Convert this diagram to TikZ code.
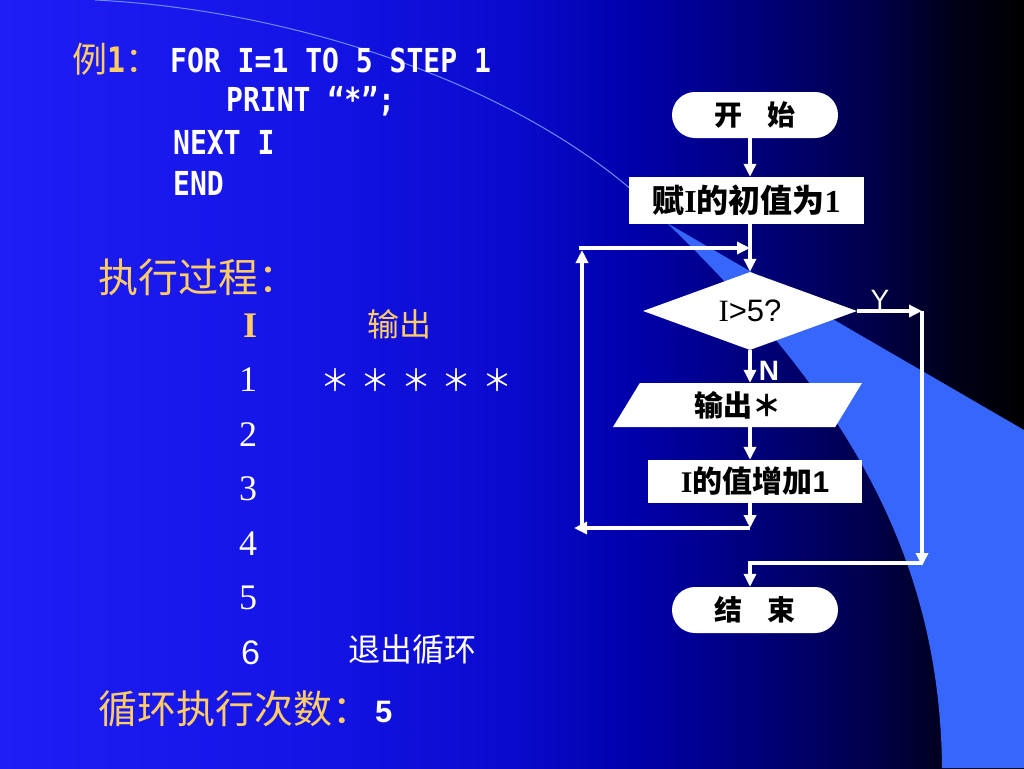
\documentclass[tikz,border=0pt]{standalone}
\usepackage{fontspec}
\usetikzlibrary{shapes,arrows.meta}

\newfontfamily\cjkfont{Noto Sans CJK SC}
\newfontfamily\codefont[FakeStretch=0.85]{DejaVu Sans Mono}
\newfontfamily\romfont{Liberation Serif}
\newfontfamily\arialfont{Liberation Sans}

\definecolor{hdr}{RGB}{255,204,102}
\definecolor{band}{RGB}{55,102,250}
\definecolor{arcline}{RGB}{110,140,255}
\definecolor{bgA}{RGB}{30,30,245}
\definecolor{bgB}{RGB}{20,20,230}
\definecolor{bgC}{RGB}{10,10,205}
\definecolor{bgD}{RGB}{0,0,170}
\definecolor{bgE}{RGB}{0,0,125}
\definecolor{bgF}{RGB}{0,0,75}
\definecolor{bgG}{RGB}{0,0,25}

\pgfdeclarehorizontalshading{slidebg}{100bp}{color(0bp)=(bgA); color(25bp)=(bgA);
  color(40bp)=(bgB); color(50bp)=(bgC); color(56bp)=(bgD); color(61.5bp)=(bgE);
  color(67.5bp)=(bgF); color(71.5bp)=(bgG); color(75bp)=(black); color(100bp)=(black)}

\tikzset{
  flowarr/.style={draw=white, line width=3.5pt, -{Triangle[length=13pt,width=12pt]}},
  termnode/.style={rounded rectangle, fill=white, minimum width=166pt, minimum height=46pt,
    inner sep=0pt, font=\cjkfont\bfseries\fontsize{28}{32}\selectfont},
  procnode/.style={rectangle, fill=white, inner sep=0pt,
    font=\cjkfont\bfseries\fontsize{30}{34}\selectfont},
  decnode/.style={diamond, fill=white, aspect=2.74, minimum width=214pt, minimum height=78pt,
    inner sep=0pt, font=\fontsize{31}{34}\selectfont},
  ionode/.style={trapezium, trapezium left angle=46, trapezium right angle=134,
    trapezium stretches body=true, fill=white, minimum width=249pt, minimum height=44pt,
    inner sep=0pt, font=\cjkfont\bfseries\fontsize{29}{32}\selectfont},
  codeln/.style={anchor=base west, inner sep=0pt, text=white,
    font=\codefont\bfseries\fontsize{33}{36}\selectfont},
  hdrtxt/.style={anchor=base west, inner sep=0pt, text=hdr,
    font=\cjkfont\fontsize{40}{44}\selectfont},
  rowtxt/.style={anchor=base west, inner sep=0pt, text=white,
    font=\romfont\fontsize{36}{40}\selectfont},
  startxt/.style={inner sep=0pt, text=white, font=\cjkfont\fontsize{30}{34}\selectfont},
  lbl/.style={inner sep=0pt, text=white, font=\arialfont\fontsize{28}{32}\selectfont}
}

\begin{document}
\begin{tikzpicture}[x=1pt,y=-1pt]
  \useasboundingbox (0,0) rectangle (1024,768);

  % background
  \shade[shading=slidebg] (0,0) rectangle (1024,768);
  \fill[band] (667,223) -- (1024,430) -- (1024,768) -- (942,768)
     .. controls (940,560) and (850,400) .. (667,223) -- cycle;
  \draw[arcline, line width=1pt] (95,0) .. controls (300,10) and (540,90) .. (667,223);

  % program
  \node[hdrtxt, font=\cjkfont\fontsize{35}{40}\selectfont] (ex) at (72,72) {例{\codefont\bfseries 1}：};
  \node[codeln] (l1) at (170,72) {FOR I=1 TO 5 STEP 1};
  \node[codeln] (l2) at (226,111) {PRINT “*”;};
  \node[codeln] (l3) at (173,154) {NEXT I};
  \node[codeln] (l4) at (173,195) {END};

  % table
  \node[hdrtxt] (run) at (98,292) {执行过程：};
  \node[hdrtxt, font=\romfont\bfseries\fontsize{36}{40}\selectfont] (colI) at (243,337) {I};
  \node[hdrtxt, font=\cjkfont\fontsize{32}{36}\selectfont] (colout) at (367,336) {输出};
  \foreach \n in {1,...,5}
    \node[rowtxt] (row\n) at (239,337+54.5*\n) {\n};
  \node[rowtxt, font=\arialfont\fontsize{34}{40}\selectfont] (row6) at (241,664) {6};
  \foreach \k in {0,...,4}
    \node[startxt] (star\k) at (335+40.5*\k,380) {＊};
  \node[hdrtxt, text=white, font=\cjkfont\fontsize{32}{36}\selectfont] (quit) at (348,661) {退出循环};
  \node[hdrtxt, font=\cjkfont\fontsize{39}{44}\selectfont] (count) at (98,723) {循环执行次数：};
  \node[codeln, font=\arialfont\bfseries\fontsize{31}{36}\selectfont] (five) at (375,722) {5};

  % flow chart
  \node[termnode] (start) at (755,115) {开\hspace{0.9em}始};
  \node[procnode, minimum width=235pt, minimum height=47pt, font=\cjkfont\bfseries\fontsize{32}{36}\selectfont]
    (init) at (746.5,200.5) {赋{\romfont\bfseries I}的初值为{\romfont\bfseries 1}};
  \node[decnode] (cond) at (750,311) {{\romfont I}{\arialfont >5?}};
  \node[ionode] (out) at (737.5,405) {输出＊};
  \node[procnode, minimum width=214pt, minimum height=43pt]
    (inc) at (755,481.5) {{\romfont I}的值增加{\arialfont 1}};
  \node[termnode] (stop) at (755,610) {结\hspace{0.9em}束};
  \node[lbl] (yes) at (880,300) {Y};
  \node[lbl, font=\arialfont\bfseries\fontsize{28}{32}\selectfont] (no) at (769,371) {N};

  \coordinate (loopB) at (750,528);
  \coordinate (loopBL) at (574,528);
  \coordinate (loopL) at (582,528);
  \coordinate (loopLT) at (582,250);
  \coordinate (loopT) at (579,248);
  \coordinate (loopTR) at (750,248);
  \coordinate (yesR) at (922,311);
  \coordinate (yesB) at (922,566);
  \coordinate (endT) at (922,563);

  \draw[flowarr] (start.south -| cond.north) -- (init.north -| cond.north);
  \draw[flowarr] (init.south -| cond.north) -- (cond.north);
  \draw[flowarr] (cond.south) -- (cond.south |- out.north);
  \draw[flowarr] (out.south -| cond.south) -- (inc.north -| cond.south);
  \draw[flowarr] (inc.south -| cond.south) -- (loopB);
  \draw[flowarr] (loopB) -- (loopBL);
  \draw[flowarr] (loopL) -- (loopLT);
  \draw[flowarr] (loopT) -- (loopTR);
  \draw[flowarr] (cond.east) -- (yesR);
  \draw[flowarr] (yesR) -- (yesB);
  \draw[flowarr] (endT) -- (endT -| cond.south) -- (stop.north -| cond.south);
\end{tikzpicture}
\end{document}
